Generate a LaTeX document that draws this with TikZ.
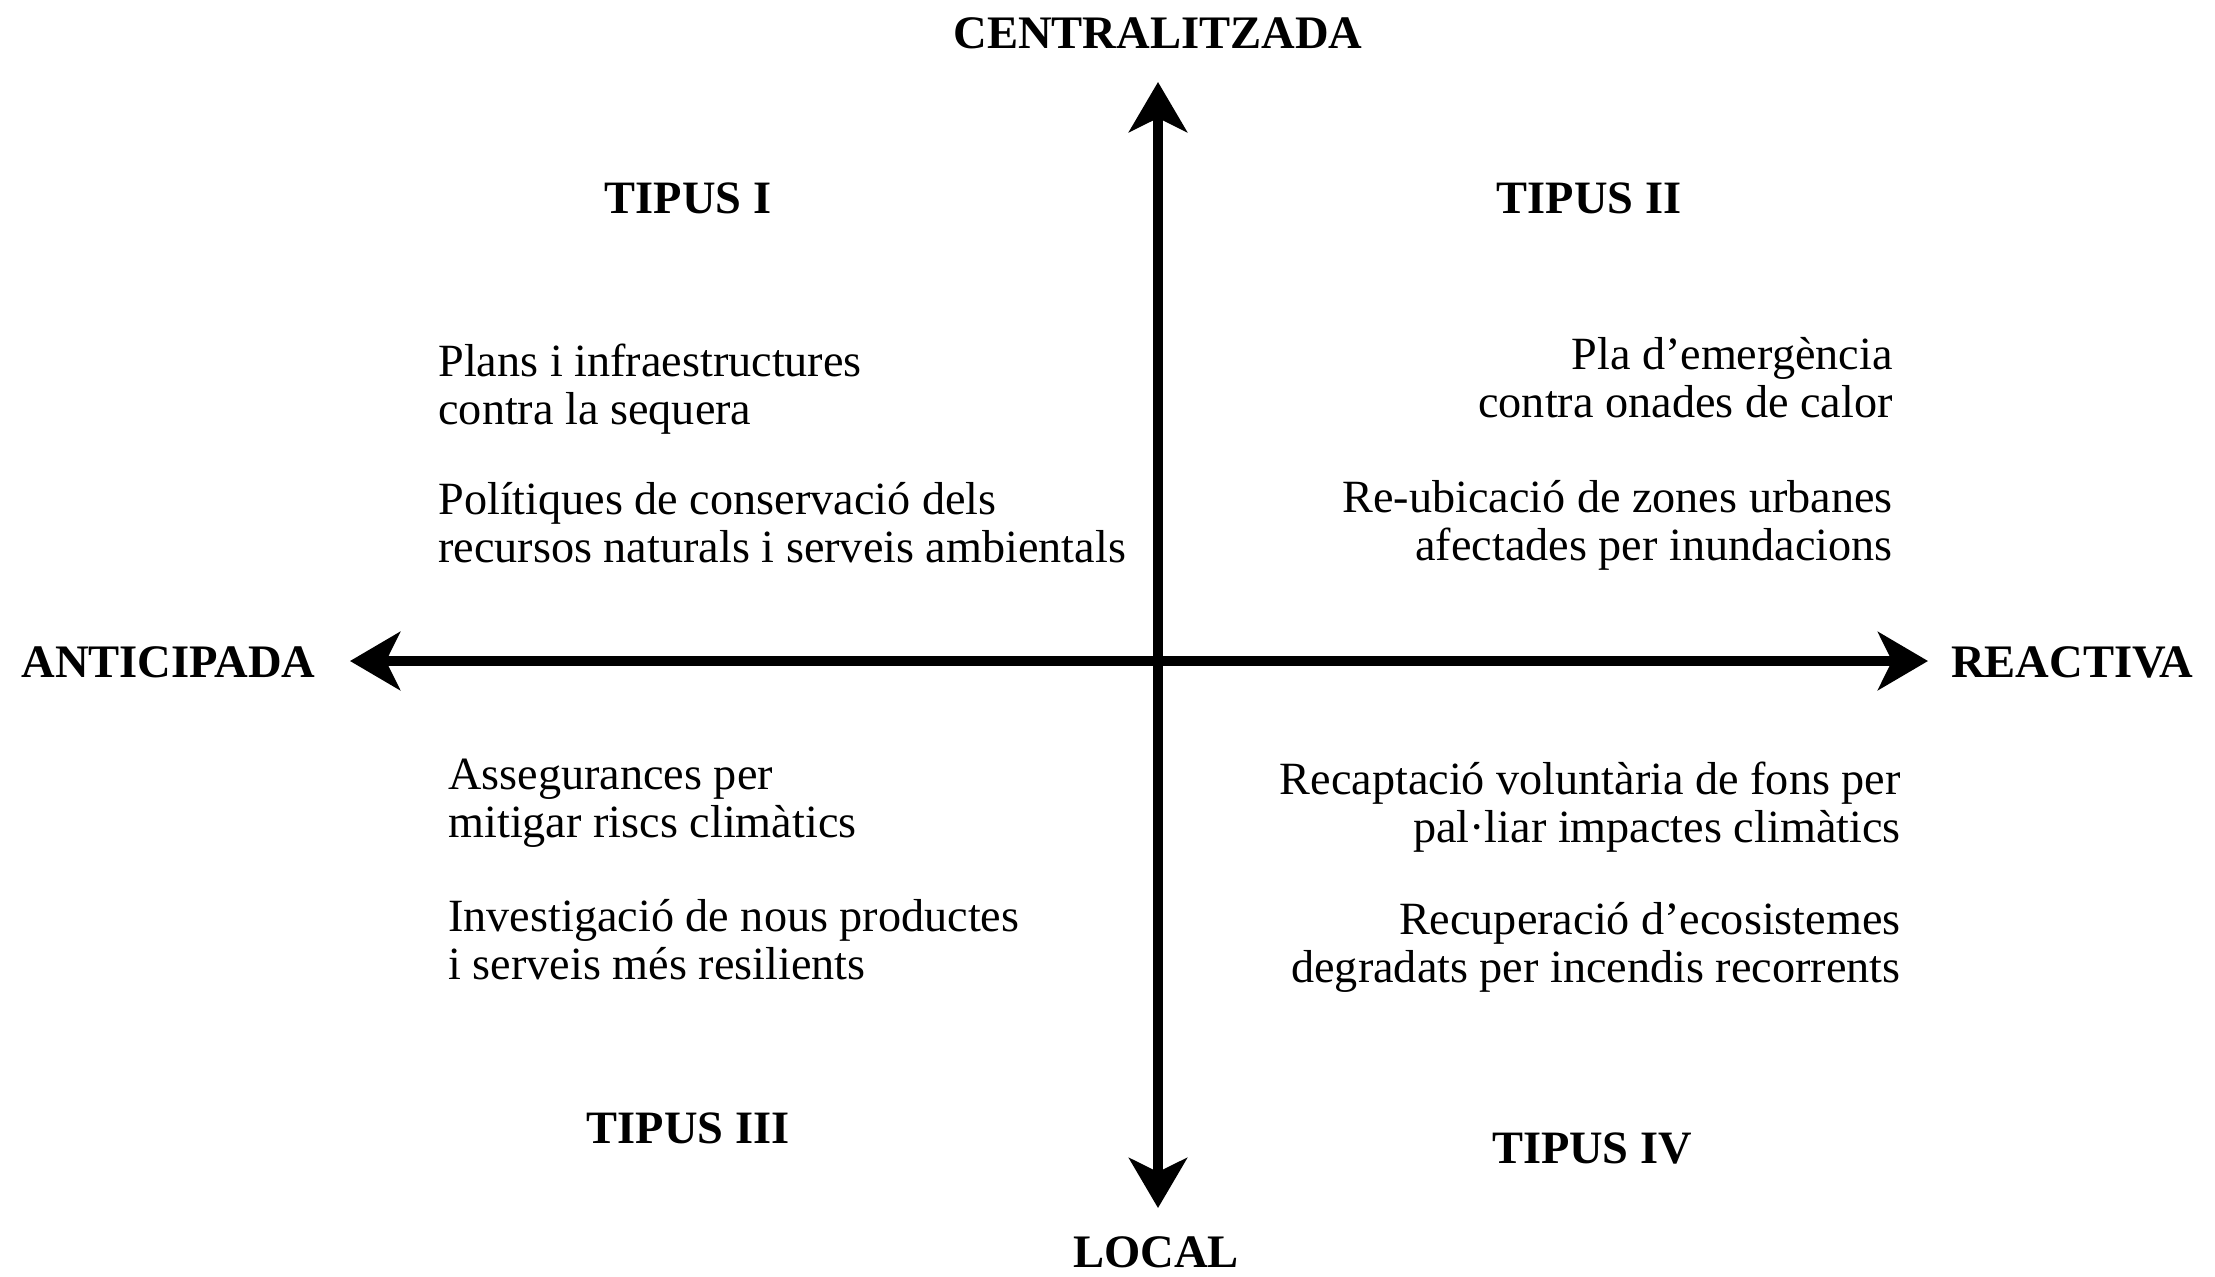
\documentclass[tikz,border=0pt]{standalone}
\usepackage{fontspec}
\setmainfont{Liberation Serif}
\usetikzlibrary{arrows.meta}
\begin{document}
\begin{tikzpicture}[x=0.5pt,y=-0.5pt,
  axislabel/.style={font=\fontsize{23.3}{25}\selectfont\bfseries, inner sep=0pt},
  typelabel/.style={font=\fontsize{23.2}{25}\selectfont\bfseries, inner sep=0pt},
  itemL/.style={font=\fontsize{23.1}{24}\selectfont, align=left, inner sep=0pt, anchor=north west},
  itemR/.style={font=\fontsize{23.1}{24}\selectfont, align=right, inner sep=0pt, anchor=north east},
  axis/.style={line width=5pt, {Stealth[length=25pt,width=29pt,inset=7pt]}-{Stealth[length=25pt,width=29pt,inset=7pt]}}]
\useasboundingbox (0,0) rectangle (2215,1276);
\coordinate (top) at (1158,82);
\coordinate (bot) at (1158,1208);
\coordinate (lft) at (350,661);
\coordinate (rgt) at (1928,661);
\draw[axis] (bot) -- (top);
\draw[axis] (lft) -- (rgt);
\node[axislabel] (cen) at (1158,33) {CENTRALITZADA};
\node[axislabel] (loc) at (1156,1252) {LOCAL};
\node[axislabel, anchor=west] (ant) at (21,662) {ANTICIPADA};
\node[axislabel, anchor=east] (rea) at (2194,662) {REACTIVA};
\node[typelabel] (t1) at (688,198) {TIPUS I};
\node[typelabel] (t2) at (1589,198) {TIPUS II};
\node[typelabel] (t3) at (688,1128) {TIPUS III};
\node[typelabel] (t4) at (1592,1148) {TIPUS IV};
\node[itemL] (q1a) at (438,344) {Plans i infraestructures\\contra la sequera};
\node[itemL] (q1b) at (438,482) {Polítiques de conservació dels\\recursos naturals i serveis ambientals};
\node[itemR] (q2a) at (1893,337) {Pla d’emergència\\contra onades de calor};
\node[itemR] (q2b) at (1893,480) {Re-ubicació de zones urbanes\\afectades per inundacions};
\node[itemL] (q3a) at (448,759) {Assegurances per\\mitigar riscs climàtics};
\node[itemL] (q3b) at (448,899) {Investigació de nous productes\\i serveis més resilients};
\node[itemR] (q4a) at (1901,762) {Recaptació voluntària de fons per\\pal·liar impactes climàtics};
\node[itemR] (q4b) at (1901,902) {Recuperació d’ecosistemes\\degradats per incendis recorrents};
\end{tikzpicture}
\end{document}
